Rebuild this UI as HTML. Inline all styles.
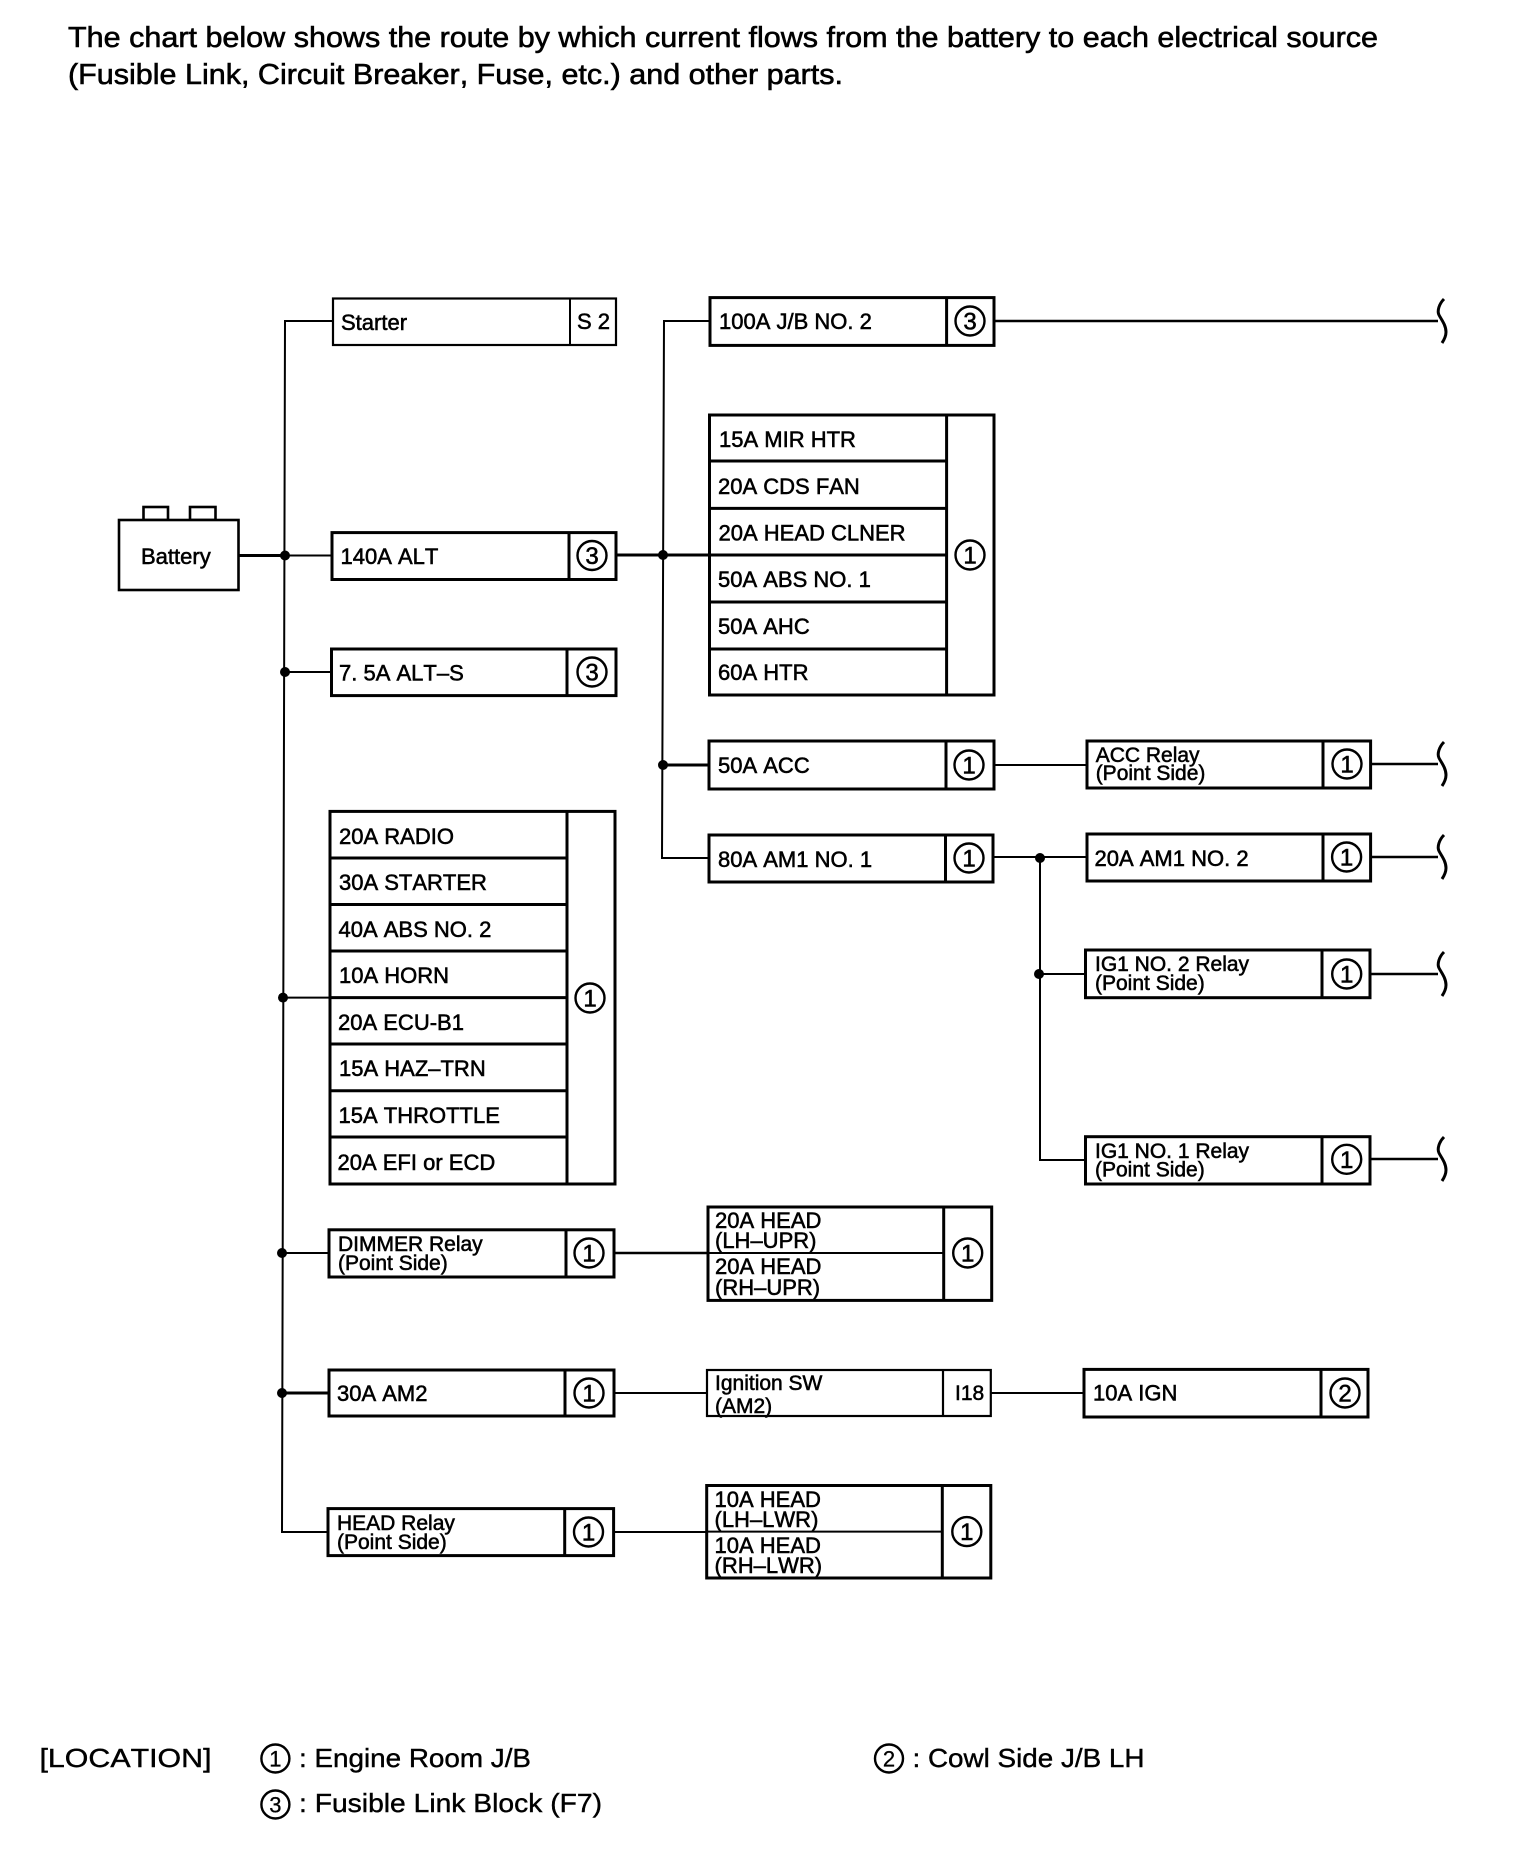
<!DOCTYPE html>
<html><head><meta charset="utf-8"><style>
html,body{margin:0;padding:0;background:#fff}
svg{display:block}
text{font-family:"Liberation Sans",Arial,sans-serif;fill:#000;stroke:#000;stroke-width:.55;font-kerning:none}
.b{fill:#fff;stroke:#000;stroke-width:3}
.n{fill:none;stroke:#000;stroke-width:3}
.t{fill:none;stroke:#000;stroke-width:2}
.c{fill:none;stroke:#000;stroke-width:2.4}
.d{fill:#000;stroke:none}
.l{font-size:22px}
.r{font-size:21px}
.g{font-size:22px}
.x{font-size:24px;text-anchor:middle}
.h{font-size:29px;stroke-width:.6}
.f{font-size:26px;stroke-width:.4}
.y{font-size:22px;text-anchor:middle;stroke-width:.3}
</style></head><body>
<svg width="1536" height="1862" viewBox="0 0 1536 1862" xmlns="http://www.w3.org/2000/svg">
<defs><path id="br" d="M6,-22 C1,-17 -1,-10 1,-6 C3,-2 8,4 8,11 C8,15 6,19 4,22" fill="none" stroke="#000" stroke-width="3"/></defs>

<!-- heading -->
<text class="h" x="68" y="47" textLength="1310" lengthAdjust="spacingAndGlyphs">The chart below shows the route by which current flows from the battery to each electrical source</text>
<text class="h" x="68" y="84" textLength="775" lengthAdjust="spacingAndGlyphs">(Fusible Link, Circuit Breaker, Fuse, etc.) and other parts.</text>

<!-- connectors -->
<path class="t" d="M333,321 H285 L282,1532 H328"/>
<path class="n" d="M238,555.5 H285"/>
<path class="t" d="M285,555.5 H332 M285,672 H331 M283,997.6 H331 M282,1253 H329"/>
<path class="n" d="M282,1393 H329"/>
<path class="t" d="M710,321 H664 L662,858 H709"/>
<path class="n" d="M616,555 H710 M663,765 H709"/>
<path class="t" d="M994,765 H1087 M993,857 H1087 M1040,857 V1160 H1086 M1040,974 H1086"/>
<path class="t" d="M994,321 H1438 M1371,764 H1438 M1371,857 H1438 M1370,974 H1438 M1370,1159 H1438" style="stroke-width:2.4"/>
<path class="t" d="M614,1253 H708" style="stroke-width:2.4"/>
<path class="t" d="M614,1393 H707 M991,1393 H1084 M614,1532 H707"/>

<use href="#br" x="1438" y="321"/>
<use href="#br" x="1438" y="764"/>
<use href="#br" x="1438" y="857"/>
<use href="#br" x="1438" y="974"/>
<use href="#br" x="1438" y="1159"/>

<g class="d">
<circle cx="285" cy="555.5" r="5"/><circle cx="285" cy="672" r="5"/><circle cx="283" cy="997.6" r="5"/><circle cx="282" cy="1253" r="5"/><circle cx="282" cy="1393" r="5"/>
<circle cx="663" cy="555" r="5"/><circle cx="663" cy="765" r="5"/><circle cx="1040" cy="858" r="5"/><circle cx="1039" cy="974" r="5"/>
</g>

<!-- battery -->
<rect class="t" x="143.5" y="507" width="24.5" height="13" style="stroke-width:2.6"/>
<rect class="t" x="190" y="507" width="25.5" height="13" style="stroke-width:2.6"/>
<rect class="b" x="119" y="520" width="119.5" height="70" style="stroke-width:2.6"/>
<text class="l" x="141" y="564">Battery</text>

<!-- left column -->
<rect class="b" x="333" y="298.5" width="283" height="46.5" style="stroke-width:2.2"/>
<path class="t" d="M570,298.5 V345"/>
<text class="l" x="341" y="330">Starter</text>
<text class="l" x="577" y="329" textLength="33" lengthAdjust="spacing">S2</text>

<rect class="b" x="332" y="532.6" width="284" height="46.9"/>
<path class="n" d="M569,532.6 V579.5"/>
<text class="l" x="340.5" y="564">140A ALT</text>
<circle class="c" cx="592" cy="555.5" r="14.5"/><text class="x" x="592" y="564">3</text>

<rect class="b" x="331.5" y="649" width="284.5" height="46.6"/>
<path class="n" d="M567,649 V695.6"/>
<text class="l" x="339" y="680.5">7. 5A ALT–S</text>
<circle class="c" cx="592" cy="672" r="14.5"/><text class="x" x="592" y="680.5">3</text>

<rect class="b" x="330" y="811.4" width="285" height="372.6"/>
<path class="n" d="M567,811.4 V1184 M330,858 H567 M330,904.5 H567 M330,951 H567 M330,997.6 H567 M330,1044 H567 M330,1090.7 H567 M330,1137 H567"/>
<text class="l" x="339" y="844">20A RADIO</text>
<text class="l" x="339" y="890">30A STARTER</text>
<text class="l" x="338.5" y="937">40A ABS NO. 2</text>
<text class="l" x="339" y="983">10A HORN</text>
<text class="l" x="338" y="1030">20A ECU-B1</text>
<text class="l" x="339" y="1076">15A HAZ–TRN</text>
<text class="l" x="338.5" y="1123">15A THROTTLE</text>
<text class="l" x="337.5" y="1170">20A EFI or ECD</text>
<circle class="c" cx="590" cy="998" r="14.5"/><text class="x" x="590" y="1006.5">1</text>

<rect class="b" x="329" y="1229.8" width="285" height="47.2"/>
<path class="n" d="M566,1229.8 V1277"/>
<text class="r" x="338" y="1251">DIMMER Relay</text>
<text class="r" x="338" y="1270">(Point Side)</text>
<circle class="c" cx="589" cy="1253" r="14.5"/><text class="x" x="589" y="1261.5">1</text>

<rect class="b" x="329" y="1370" width="285" height="46"/>
<path class="n" d="M565,1370 V1416"/>
<text class="l" x="337" y="1401">30A AM2</text>
<circle class="c" cx="589" cy="1393" r="14.5"/><text class="x" x="589" y="1401.5">1</text>

<rect class="b" x="328" y="1508.6" width="285.6" height="47"/>
<path class="n" d="M564.7,1508.6 V1555.6"/>
<text class="r" x="337" y="1530">HEAD Relay</text>
<text class="r" x="337" y="1549">(Point Side)</text>
<circle class="c" cx="588.5" cy="1532" r="14.5"/><text class="x" x="588.5" y="1540.5">1</text>

<!-- middle column -->
<rect class="b" x="710" y="297.6" width="284" height="47.8"/>
<path class="n" d="M946.6,297.6 V345.4"/>
<text class="l" x="719" y="329">100A J/B NO. 2</text>
<circle class="c" cx="970" cy="321" r="14.5"/><text class="x" x="970" y="329.5">3</text>

<rect class="b" x="709.5" y="415" width="284.5" height="280"/>
<path class="n" d="M946.6,415 V695 M709.5,461 H946.6 M709.5,508.4 H946.6 M709.5,555 H946.6 M709.5,602 H946.6 M709.5,649 H946.6"/>
<text class="l" x="719" y="447">15A MIR HTR</text>
<text class="l" x="718" y="494">20A CDS FAN</text>
<text class="l" x="718.5" y="540.5">20A HEAD CLNER</text>
<text class="l" x="718" y="587">50A ABS NO. 1</text>
<text class="l" x="718" y="634">50A AHC</text>
<text class="l" x="718" y="680">60A HTR</text>
<circle class="c" cx="970" cy="555" r="14.5"/><text class="x" x="970" y="563.5">1</text>

<rect class="b" x="709" y="741" width="285" height="48"/>
<path class="n" d="M946,741 V789"/>
<text class="l" x="718" y="773">50A ACC</text>
<circle class="c" cx="969" cy="765" r="14.5"/><text class="x" x="969" y="773.5">1</text>

<rect class="b" x="709" y="835" width="284" height="47"/>
<path class="n" d="M945.5,835 V882"/>
<text class="l" x="718" y="867">80A AM1 NO. 1</text>
<circle class="c" cx="969" cy="858" r="14.5"/><text class="x" x="969" y="866.5">1</text>

<rect class="b" x="708" y="1207" width="283.7" height="93.4"/>
<path class="n" d="M943.7,1207 V1300.4"/>
<path class="t" d="M708,1253 H943.7"/>
<text class="g" x="715" y="1228">20A HEAD</text>
<text class="g" x="715" y="1248">(LH–UPR)</text>
<text class="g" x="715" y="1274">20A HEAD</text>
<text class="g" x="715" y="1295">(RH–UPR)</text>
<circle class="c" cx="967.7" cy="1253" r="14.5"/><text class="x" x="967.7" y="1261.5">1</text>

<rect class="b" x="707" y="1370" width="283.8" height="46" style="stroke-width:2.2"/>
<path class="n" d="M943,1370 V1416" style="stroke-width:2.2"/>
<text class="r" x="715" y="1390">Ignition SW</text>
<text class="r" x="715" y="1413">(AM2)</text>
<text class="r" x="955" y="1400">I18</text>

<rect class="b" x="706.7" y="1485.5" width="284.1" height="92.5"/>
<path class="n" d="M942.3,1485.5 V1578"/>
<path class="t" d="M706.7,1531.6 H942.3"/>
<text class="g" x="714.5" y="1507">10A HEAD</text>
<text class="g" x="714.5" y="1527">(LH–LWR)</text>
<text class="g" x="714.5" y="1553">10A HEAD</text>
<text class="g" x="714.5" y="1573">(RH–LWR)</text>
<circle class="c" cx="966.8" cy="1531.6" r="14.5"/><text class="x" x="966.8" y="1540">1</text>

<!-- right column -->
<rect class="b" x="1087" y="741" width="283.6" height="47"/>
<path class="n" d="M1323,741 V788"/>
<text class="r" x="1095.7" y="762">ACC Relay</text>
<text class="r" x="1095.7" y="780">(Point Side)</text>
<circle class="c" cx="1347" cy="764" r="14.5"/><text class="x" x="1347" y="772.5">1</text>

<rect class="b" x="1087" y="834" width="283.6" height="47"/>
<path class="n" d="M1323,834 V881"/>
<text class="l" x="1094.5" y="866">20A AM1 NO. 2</text>
<circle class="c" cx="1346.6" cy="857" r="14.5"/><text class="x" x="1346.6" y="865.5">1</text>

<rect class="b" x="1085.5" y="950" width="284.5" height="47.7"/>
<path class="n" d="M1322,950 V997.7"/>
<text class="r" x="1095" y="971">IG1 NO. 2 Relay</text>
<text class="r" x="1095" y="990">(Point Side)</text>
<circle class="c" cx="1346.7" cy="974" r="14.5"/><text class="x" x="1346.7" y="982.5">1</text>

<rect class="b" x="1085.5" y="1136.7" width="284.5" height="47.3"/>
<path class="n" d="M1322,1136.7 V1184"/>
<text class="r" x="1095" y="1158">IG1 NO. 1 Relay</text>
<text class="r" x="1095" y="1176.5">(Point Side)</text>
<circle class="c" cx="1346.7" cy="1159.3" r="14.5"/><text class="x" x="1346.7" y="1167.8">1</text>

<rect class="b" x="1084" y="1369.4" width="284" height="47.6"/>
<path class="n" d="M1321,1369.4 V1417"/>
<text class="l" x="1093" y="1400.5">10A IGN</text>
<circle class="c" cx="1345" cy="1393" r="14.5"/><text class="x" x="1345" y="1401.5">2</text>

<!-- legend -->
<text class="f" x="39.5" y="1767" textLength="172" lengthAdjust="spacingAndGlyphs">[LOCATION]</text>
<circle class="c" cx="275.4" cy="1758.5" r="14"/><text class="y" x="275.4" y="1766.5">1</text>
<text class="f" x="299" y="1767" textLength="232" lengthAdjust="spacingAndGlyphs">: Engine Room J/B</text>
<circle class="c" cx="889" cy="1758.5" r="14"/><text class="y" x="889" y="1766.5">2</text>
<text class="f" x="912.5" y="1767" textLength="232" lengthAdjust="spacingAndGlyphs">: Cowl Side J/B LH</text>
<circle class="c" cx="275.4" cy="1804.5" r="14"/><text class="y" x="275.4" y="1812.5">3</text>
<text class="f" x="299" y="1812.2" textLength="303" lengthAdjust="spacingAndGlyphs">: Fusible Link Block (F7)</text>
</svg>
</body></html>
